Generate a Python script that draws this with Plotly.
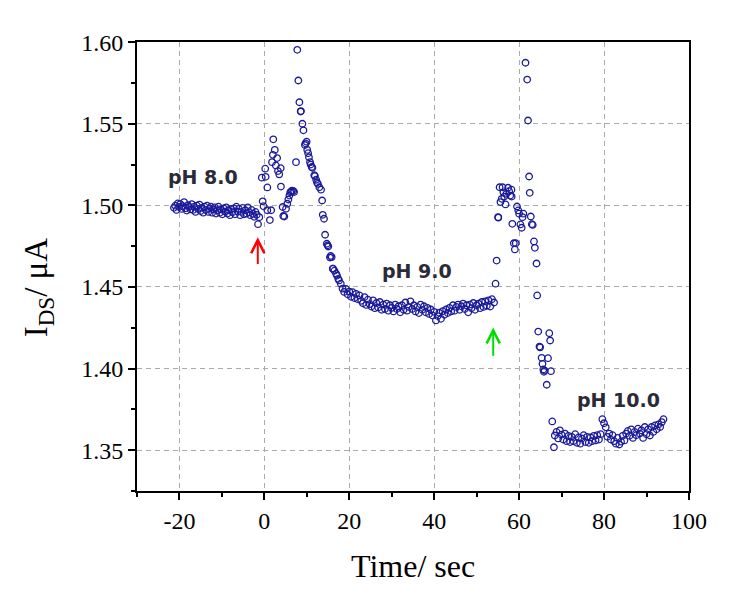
import plotly.graph_objects as go

# pH 8.0 baseline
PH8_TIME = [
    -21.3, -21.0, -20.7, -20.4, -20.1, -19.8, -19.5, -19.2, -18.9, -18.6,
    -18.3, -18.0, -17.7, -17.4, -17.1, -16.8, -16.5, -16.2, -15.9, -15.6,
    -15.3, -15.0, -14.7, -14.4, -14.1, -13.8, -13.5, -13.2, -12.9, -12.6,
    -12.3, -12.0, -11.7, -11.4, -11.1, -10.8, -10.5, -10.2, -9.9, -9.6,
    -9.3, -9.0, -8.7, -8.4, -8.1, -7.8, -7.5, -7.2, -6.9, -6.6,
    -6.3, -6.0, -5.7, -5.4, -5.1, -4.8, -4.5, -4.2, -3.9, -3.6,
    -3.3, -3.0, -2.7, -2.4, -2.1, -1.8, -1.5, -1.2,
]
PH8_CURRENT = [
    1.4985, 1.4998, 1.4972, 1.5012, 1.4990, 1.5008, 1.4978, 1.4995, 1.5020, 1.4982,
    1.4968, 1.5002, 1.4990, 1.4975, 1.5008, 1.4972, 1.4992, 1.4960, 1.4998, 1.4978,
    1.5005, 1.4965, 1.4985, 1.4955, 1.4992, 1.4972, 1.4998, 1.4960, 1.4980, 1.4992,
    1.4955, 1.4975, 1.4988, 1.4950, 1.4970, 1.4992, 1.4955, 1.4975, 1.4945, 1.4982,
    1.4962, 1.4988, 1.4950, 1.4970, 1.4940, 1.4978, 1.4958, 1.4982, 1.4945, 1.4992,
    1.4962, 1.4978, 1.4940, 1.4960, 1.4985, 1.4945, 1.4970, 1.4950, 1.4988, 1.4958,
    1.4940, 1.4972, 1.4948, 1.4930, 1.4960, 1.4942, 1.4885, 1.4928,
]

# switch pH 8.0 -> 9.0
STEP1_TIME = [
    -0.6, -0.4, -0.2, 0.2, 0.3, 0.7, 0.7, 1.3, 1.6, 1.8,
    2.0, 2.1, 2.45, 2.7, 3.0, 3.2, 3.5, 3.85, 3.9, 4.3,
    4.45, 4.7, 5.1, 5.4, 5.65, 5.9, 6.1, 6.3, 6.5, 6.8,
    7.0, 7.45, 7.75, 8.0, 8.25, 8.55, 8.6, 8.95, 9.2, 9.55,
    9.7, 9.95, 10.1, 10.3, 10.5, 10.75, 10.9, 11.15, 11.3, 11.75,
    11.9, 12.2, 12.4, 12.6, 12.95, 13.35, 13.6, 13.75, 14.05, 14.3,
    14.7, 14.9, 15.05, 15.45, 15.6, 15.85, 16.1, 16.2, 16.5, 16.9,
    17.1, 17.4, 17.6, 18.0,
]
STEP1_CURRENT = [
    1.5170, 1.5025, 1.4995, 1.5225, 1.5175, 1.5110, 1.4970, 1.4910, 1.4970, 1.5265,
    1.5310, 1.5405, 1.5340, 1.5245, 1.5290, 1.5210, 1.5190, 1.5228, 1.5115, 1.4990,
    1.4935, 1.4932, 1.4980, 1.5010, 1.5036, 1.5060, 1.5080, 1.5085, 1.5090, 1.5088,
    1.5082, 1.5265, 1.5953, 1.5765, 1.5632, 1.5575, 1.5578, 1.5500, 1.5460, 1.5370,
    1.5380, 1.5390, 1.5340, 1.5320, 1.5295, 1.5265, 1.5250, 1.5235, 1.5230, 1.5185,
    1.5180, 1.5157, 1.5140, 1.5132, 1.5111, 1.5096, 1.5030, 1.4942, 1.4918, 1.4820,
    1.4765, 1.4755, 1.4748, 1.4680, 1.4690, 1.4683, 1.4612, 1.4612, 1.4600, 1.4581,
    1.4570, 1.4550, 1.4540, 1.4520,
]

# pH 9.0 baseline
PH9_TIME = [
    18.4, 18.8, 19.2, 19.6, 20.0, 20.4, 20.8, 21.2, 21.6, 22.0,
    22.4, 22.8, 23.2, 23.6, 24.0, 24.4, 24.8, 25.2, 25.6, 26.0,
    26.4, 26.8, 27.2, 27.6, 28.0, 28.4, 28.8, 29.2, 29.6, 30.0,
    30.4, 30.8, 31.2, 31.6, 32.0, 32.4, 32.8, 33.2, 33.6, 34.0,
    34.4, 34.8, 35.2, 35.6, 36.0, 36.4, 36.8, 37.2, 37.6, 38.0,
    38.4, 38.8, 39.2, 39.6, 40.0, 40.4, 40.8, 41.2, 41.6, 42.0,
    42.4, 42.8, 43.2, 43.6, 44.0, 44.4, 44.8, 45.2, 45.6, 46.0,
    46.4, 46.8, 47.2, 47.6, 48.0, 48.4, 48.8, 49.2, 49.6, 50.0,
    50.4, 50.8, 51.2, 51.6, 52.0, 52.4, 52.8, 53.2, 53.6,
]
PH9_CURRENT = [
    1.4490, 1.4470, 1.4488, 1.4455, 1.4472, 1.4440, 1.4468, 1.4432, 1.4458, 1.4425,
    1.4448, 1.4415, 1.4400, 1.4438, 1.4390, 1.4422, 1.4395, 1.4380, 1.4418, 1.4370,
    1.4402, 1.4375, 1.4408, 1.4360, 1.4392, 1.4365, 1.4398, 1.4355, 1.4388, 1.4372,
    1.4350, 1.4392, 1.4365, 1.4382, 1.4345, 1.4388, 1.4360, 1.4405, 1.4355, 1.4378,
    1.4412, 1.4365, 1.4388, 1.4350, 1.4378, 1.4340, 1.4392, 1.4360, 1.4382, 1.4345,
    1.4372, 1.4335, 1.4362, 1.4325, 1.4348, 1.4295, 1.4322, 1.4342, 1.4305, 1.4352,
    1.4330, 1.4362, 1.4340, 1.4372, 1.4350, 1.4388, 1.4355, 1.4378, 1.4392, 1.4360,
    1.4382, 1.4398, 1.4365, 1.4388, 1.4345, 1.4392, 1.4370, 1.4402, 1.4360, 1.4388,
    1.4398, 1.4370, 1.4408, 1.4378, 1.4412, 1.4385, 1.4418, 1.4380, 1.4425,
]

# switch pH 9.0 -> 10.0
STEP2_TIME = [
    54.1, 54.45, 54.7, 55.05, 55.1, 55.4, 55.6, 55.9, 56.1, 56.3,
    56.5, 56.8, 57.0, 57.4, 57.65, 57.9, 58.2, 58.25, 58.4, 58.75,
    59.0, 59.2, 59.5, 59.8, 60.0, 60.3, 60.6, 60.8, 61.0, 61.5,
    61.9, 62.1, 62.35, 62.5, 62.75, 63.0, 63.2, 63.5, 63.7, 64.1,
    64.25, 64.5, 64.8, 64.95, 65.3, 65.5, 65.7, 65.85, 66.0, 66.5,
    66.8, 67.1, 67.3, 67.5, 67.8, 68.2,
]
STEP2_CURRENT = [
    1.4405, 1.4520, 1.4662, 1.4928, 1.4925, 1.5111, 1.5020, 1.5040, 1.5111, 1.5080,
    1.5054, 1.5006, 1.5071, 1.5108, 1.5087, 1.5060, 1.5096, 1.5054, 1.4887, 1.4768,
    1.4730, 1.4768, 1.4993, 1.4969, 1.4949, 1.4883, 1.4863, 1.4928, 1.4949, 1.5874,
    1.5771, 1.5520, 1.5177, 1.5077, 1.4932, 1.4885, 1.4880, 1.4779, 1.4740, 1.4644,
    1.4448, 1.4227, 1.4135, 1.4130, 1.4066, 1.4029, 1.3995, 1.3980, 1.3988, 1.3901,
    1.4064, 1.4217, 1.4172, 1.3984, 1.3676, 1.3518,
]

# pH 10.0 baseline
PH10_TIME = [
    68.4, 68.8, 69.2, 69.6, 70.0, 70.4, 70.8, 71.2, 71.6, 72.0,
    72.4, 72.8, 73.2, 73.6, 74.0, 74.4, 74.8, 75.2, 75.6, 76.0,
    76.4, 76.8, 77.2, 77.6, 78.0, 78.4, 78.8, 79.2, 79.6, 80.0,
    80.4, 80.8, 81.2, 81.6, 82.0, 82.4, 82.8, 83.2, 83.6, 84.0,
    84.4, 84.8, 85.2, 85.6, 86.0, 86.4, 86.8, 87.2, 87.6, 88.0,
    88.4, 88.8, 89.2, 89.6, 90.0, 90.4, 90.8, 91.2, 91.6, 92.0,
    92.4, 92.8, 93.2, 93.6, 94.0,
]
PH10_CURRENT = [
    1.3590, 1.3612, 1.3572, 1.3622, 1.3595, 1.3565, 1.3602, 1.3555, 1.3588, 1.3550,
    1.3582, 1.3555, 1.3598, 1.3545, 1.3578, 1.3540, 1.3572, 1.3592, 1.3550, 1.3582,
    1.3545, 1.3578, 1.3555, 1.3588, 1.3560, 1.3592, 1.3565, 1.3598, 1.3690, 1.3665,
    1.3640, 1.3582, 1.3602, 1.3565, 1.3592, 1.3555, 1.3540, 1.3575, 1.3535, 1.3552,
    1.3588, 1.3560, 1.3602, 1.3618, 1.3588, 1.3628, 1.3575, 1.3612, 1.3592, 1.3632,
    1.3602, 1.3622, 1.3575, 1.3642, 1.3598, 1.3628, 1.3590, 1.3642, 1.3612, 1.3652,
    1.3628, 1.3658, 1.3642, 1.3672, 1.3690,
]

X_TICKS = [-20, 0, 20, 40, 60, 80, 100]
X_TICK_TEXT = ["-20", "0", "20", "40", "60", "80", "100"]

# labels (text, time, current)
PH_LABELS = [("pH 8.0", -14.5, 1.5175), ("pH 9.0", 36.0, 1.4595), ("pH 10.0", 83.3, 1.3805)]
# injection arrows (time, tail current, tip current, colour)
ARROWS = [(-1.55, 1.4632, 1.4805, "#ff0000"), (53.9, 1.4070, 1.4252, "#00dd00")]

TIME = PH8_TIME + STEP1_TIME + PH9_TIME + STEP2_TIME + PH10_TIME
CURRENT = PH8_CURRENT + STEP1_CURRENT + PH9_CURRENT + STEP2_CURRENT + PH10_CURRENT

SERIF = "Liberation Serif, Times New Roman, serif"

fig = go.Figure(
    go.Scatter(
        x=TIME,
        y=CURRENT,
        mode="markers",
        marker=dict(symbol="circle-open", size=6.5, color="#1a1a9a", line=dict(width=1.3)),
        showlegend=False,
    )
)

axis_style = dict(
    showline=True,
    linewidth=2,
    linecolor="black",
    mirror=True,
    ticks="outside",
    ticklen=7,
    tickwidth=1.5,
    tickcolor="black",
    showgrid=True,
    gridcolor="#aaaaaa",
    gridwidth=1.2,
    griddash="5px,4px",
    zeroline=False,
    tickfont=dict(family=SERIF, size=24, color="black"),
)

fig.update_xaxes(
    range=[-30, 100.01],
    tickvals=X_TICKS,
    ticktext=X_TICK_TEXT,
    minor=dict(dtick=10, tick0=0, ticks="outside", ticklen=4, tickwidth=1.5, tickcolor="black", showgrid=False),
    **axis_style,
)
fig.update_yaxes(
    range=[1.325, 1.6001],
    tick0=1.35,
    dtick=0.05,
    tickformat=".2f",
    minor=dict(dtick=0.025, ticks="outside", ticklen=4, tickwidth=1.5, tickcolor="black", showgrid=False),
    **axis_style,
)

for text, t, current in PH_LABELS:
    fig.add_annotation(
        x=t, y=current, text=f"<b>{text}</b>", showarrow=False,
        font=dict(family="DejaVu Sans", size=19, color="#2b2b38"),
    )

for t, tail, tip, colour in ARROWS:
    fig.add_annotation(
        x=t, y=tip, ax=t, ay=tail, xref="x", yref="y", axref="x", ayref="y",
        text="", showarrow=True, arrowhead=5, arrowsize=1.3, arrowwidth=2, arrowcolor=colour,
    )

fig.add_annotation(
    x=0.5, y=-0.167, xref="paper", yref="paper", xanchor="center", yanchor="middle",
    text="Time/ sec", showarrow=False, font=dict(family=SERIF, size=32, color="black"),
)
fig.add_annotation(
    x=-0.179, y=0.454, xref="paper", yref="paper", xanchor="center", yanchor="middle",
    text="I<sub>DS</sub>/ μA", textangle=-90, showarrow=False,
    font=dict(family=SERIF, size=33, color="black"),
)

# the page body adds an 8px offset, so the margins are shifted to compensate
fig.update_layout(
    width=729,
    height=600,
    margin=dict(l=129, r=48, t=34, b=117),
    paper_bgcolor="white",
    plot_bgcolor="white",
)

fig.write_html("out.html")
